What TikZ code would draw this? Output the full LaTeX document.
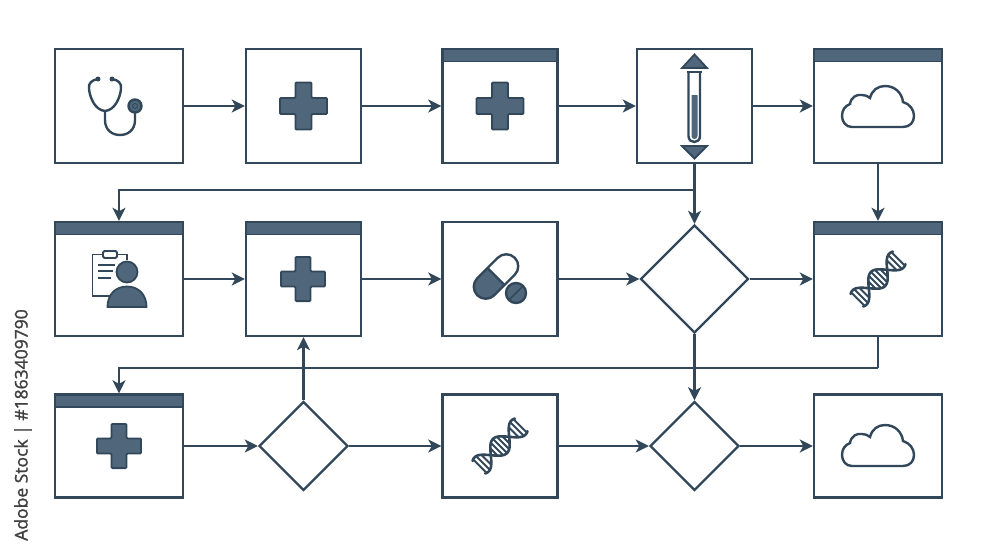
\documentclass[tikz,border=0pt]{standalone}
\usepackage{fontspec}
\setsansfont[FakeBold=1.4]{Open Sans}
\usetikzlibrary{arrows.meta, positioning, shapes.geometric}

\definecolor{inkblue}{HTML}{32485A}
\definecolor{slateblue}{HTML}{50667A}

\tikzset{
  panel/.style={draw=inkblue, line width=2.4pt, fill=white, rectangle, inner sep=0pt, minimum width=#1, minimum height=114pt},
  panel/.default=115pt,
  headpanel/.style={panel=#1, path picture={\fill[slateblue] (path picture bounding box.north west) rectangle ([yshift=-12.5pt]path picture bounding box.north east); \draw[inkblue, line width=1.5pt] ([yshift=-12.5pt]path picture bounding box.north west) -- ([yshift=-12.5pt]path picture bounding box.north east);}},
  headpanel/.default=115pt,
  choice/.style={draw=inkblue, line width=2.4pt, fill=white, diamond, aspect=1, inner sep=0pt, minimum width=#1, minimum height=#1},
  flow/.style={draw=inkblue, line width=2.4pt, -{Stealth[length=13pt, width=13pt, inset=3.5pt]}},
  iconline/.style={draw=inkblue, line width=2.4pt},
  iconfill/.style={draw=inkblue, line width=1.8pt, fill=slateblue},
  pics/plusicon/.style={code={
    \draw[iconfill, rounded corners=1pt] (-8,-23.5) -- (8,-23.5) -- (8,-8) -- (23.5,-8) -- (23.5,8) -- (8,8) -- (8,23.5) -- (-8,23.5) -- (-8,8) -- (-23.5,8) -- (-23.5,-8) -- (-8,-8) -- cycle;
  }},
  pics/cloudicon/.style={code={
    \draw[iconline, fill=white] (-26,20) .. controls (-32,20) and (-36,15) .. (-36,9)
      .. controls (-36,3) and (-33,-1) .. (-28,-3)
      .. controls (-27,-10) and (-21,-13) .. (-16,-12)
      .. controls (-13,-12) and (-10,-11) .. (-8,-9)
      .. controls (-6,-17) and (0,-21) .. (7,-21)
      .. controls (17,-21) and (24,-14) .. (25,-5)
      .. controls (32,-3) and (36,3) .. (36,9)
      .. controls (36,15) and (32,20) .. (25,20) -- cycle;
  }},
  pics/dnaicon/.style={code={
    \foreach \t in {-28.5,-24,-19.5,-8.5,-4.25,0,4.25,8.5,19.5,24,28.5} {
      \pgfmathsetmacro\rungy{10*cos(\t*180/26)}
      \draw[inkblue, line width=2pt] (\t,\rungy) -- (\t,-\rungy);
    }
    \draw[inkblue, line width=2.6pt, line cap=round] plot[domain=-30:30, samples=50, smooth] (\x,{10*cos(\x*180/26)});
    \draw[inkblue, line width=2.6pt, line cap=round] plot[domain=-30:30, samples=50, smooth] (\x,{-10*cos(\x*180/26)});
  }}
}

\begin{document}
\begin{tikzpicture}[x=1pt, y=-1pt]
  \useasboundingbox (0,0) rectangle (1000,558);
  \fill[white] (0,0) rectangle (1000,558);
  % top row
  \node[panel=128pt] (scope) at (119,106) {};
  \node[panel] (clinic) at (303.5,106) {};
  \node[headpanel] (ward) at (500,106) {};
  \node[panel] (tube) at (694.5,106) {};
  \node[headpanel=128pt] (store) at (878,106) {};
  % middle row
  \node[headpanel=128pt] (patient) at (119,279) {};
  \node[headpanel] (care) at (303.5,279) {};
  \node[panel] (pills) at (500,279) {};
  \node[choice=108pt] (test) at (694.5,279) {};
  \node[headpanel=128pt] (genome) at (878,279) {};
  % bottom row
  \node[headpanel=128pt, minimum height=103pt] (relief) at (119,446) {};
  \node[choice=89pt] (retry) at (303.5,446) {};
  \node[panel, minimum height=103pt] (strand) at (500,446) {};
  \node[choice=89pt] (match) at (694.5,446) {};
  \node[panel=128pt, minimum height=103pt] (archive) at (878,446) {};
  % junctions
  \coordinate (split) at (694.5,190);
  \coordinate (drop) at (878,368);
  % connectors
  \draw[flow] (scope) -- (clinic);
  \draw[flow] (clinic) -- (ward);
  \draw[flow] (ward) -- (tube);
  \draw[flow] (tube) -- (store);
  \draw[flow] (tube) -- (test);
  \draw[flow] (split) -| (patient.north);
  \draw[flow] (store) -- (genome);
  \draw[flow] (patient) -- (care);
  \draw[flow] (care) -- (pills);
  \draw[flow] (pills) -- (test);
  \draw[flow] (test) -- (genome);
  \draw[flow] (test) -- (match);
  \draw[inkblue, line width=2.4pt] (genome.south) -- (drop);
  \draw[flow] (drop) -| (relief.north);
  \draw[flow] (relief) -- (retry);
  \draw[flow] (retry) -- (care);
  \draw[flow] (retry) -- (strand);
  \draw[flow] (strand) -- (match);
  \draw[flow] (match) -- (archive);
  % stethoscope
  \draw[iconline, line cap=round] (98,79) .. controls (92,80) and (88,83) .. (89,89) .. controls (90,98) and (95,110) .. (105,111) .. controls (115,110) and (120,98) .. (121,89) .. controls (122,83) and (118,80) .. (112,79);
  \draw[iconline] (105,111) -- (105,120) .. controls (105,130) and (112,135) .. (120,135) .. controls (128,135) and (135,130) .. (135,120) -- (135,112);
  \fill[inkblue] (98,79) circle (2.5pt) (112,79) circle (2.5pt);
  \fill[slateblue, draw=inkblue, line width=2.4pt] (135,106) circle (6.5pt);
  \draw[inkblue, line width=1pt] (135,106) circle (2.5pt);
  % crosses
  \pic at (303.5,106) {plusicon};
  \pic at (500,106) {plusicon};
  \pic[scale=0.94] at (303,279) {plusicon};
  \pic[scale=0.94] at (119,446) {plusicon};
  % test tube
  \draw[iconfill] (694.5,54.5) -- (707,68) -- (682,68) -- cycle;
  \draw[iconfill] (694.5,158.5) -- (707,146) -- (682,146) -- cycle;
  \draw[iconline] (688.5,72) -- (688.5,136) .. controls (688.5,144) and (700,144) .. (700,136) -- (700,72);
  \draw[iconline] (687,72) -- (701.5,72);
  \fill[slateblue] (691.5,95) -- (697.5,95) -- (697.5,136) .. controls (697.5,140) and (691.5,140) .. (691.5,136) -- cycle;
  % clouds
  \pic at (878,107) {cloudicon};
  \pic at (878,446) {cloudicon};
  % clipboard and person
  \draw[inkblue, line width=1.8pt] (103,254.5) -- (92.5,254.5) -- (92.5,296) -- (110,296);
  \draw[inkblue, line width=1.8pt] (117,254.5) -- (127,254.5) -- (127,260);
  \draw[inkblue, line width=1.8pt, rounded corners=1.5pt] (103,251) rectangle (117,258);
  \draw[inkblue, line width=1.8pt] (98,265) -- (115,265) (98,271) -- (113,271) (98,278) -- (111,278);
  \fill[slateblue, draw=inkblue, line width=1.8pt] (127,272) circle (10.5pt);
  \fill[slateblue, draw=inkblue, line width=1.8pt] (107.5,307) .. controls (107.5,294) and (116,286.5) .. (127,286.5) .. controls (138,286.5) and (146.5,294) .. (146.5,307) -- cycle;
  % capsule and tablet
  \begin{scope}[shift={(496,276.5)}, rotate=45]
    \begin{scope}
      \clip (-27,-13) rectangle (0,13);
      \fill[slateblue, rounded corners=12pt] (-26.5,-12) rectangle (26.5,12);
    \end{scope}
    \draw[iconline, rounded corners=12pt] (-26.5,-12) rectangle (26.5,12);
    \draw[iconline] (0,-12) -- (0,12);
  \end{scope}
  \fill[slateblue, draw=inkblue, line width=2.4pt] (516,293) circle (10pt);
  \draw[inkblue, line width=1.5pt] (509.5,299.5) -- (522.5,286.5);
  % helixes
  \pic[rotate=45] at (878,279) {dnaicon};
  \pic[rotate=45] at (500,446) {dnaicon};
  % side label
  \node[rotate=90, font=\sffamily\fontsize{17.5}{19}\selectfont, text=black!75] (credit) at (23,425) {Adobe Stock | \#1863409790};
\end{tikzpicture}
\end{document}
